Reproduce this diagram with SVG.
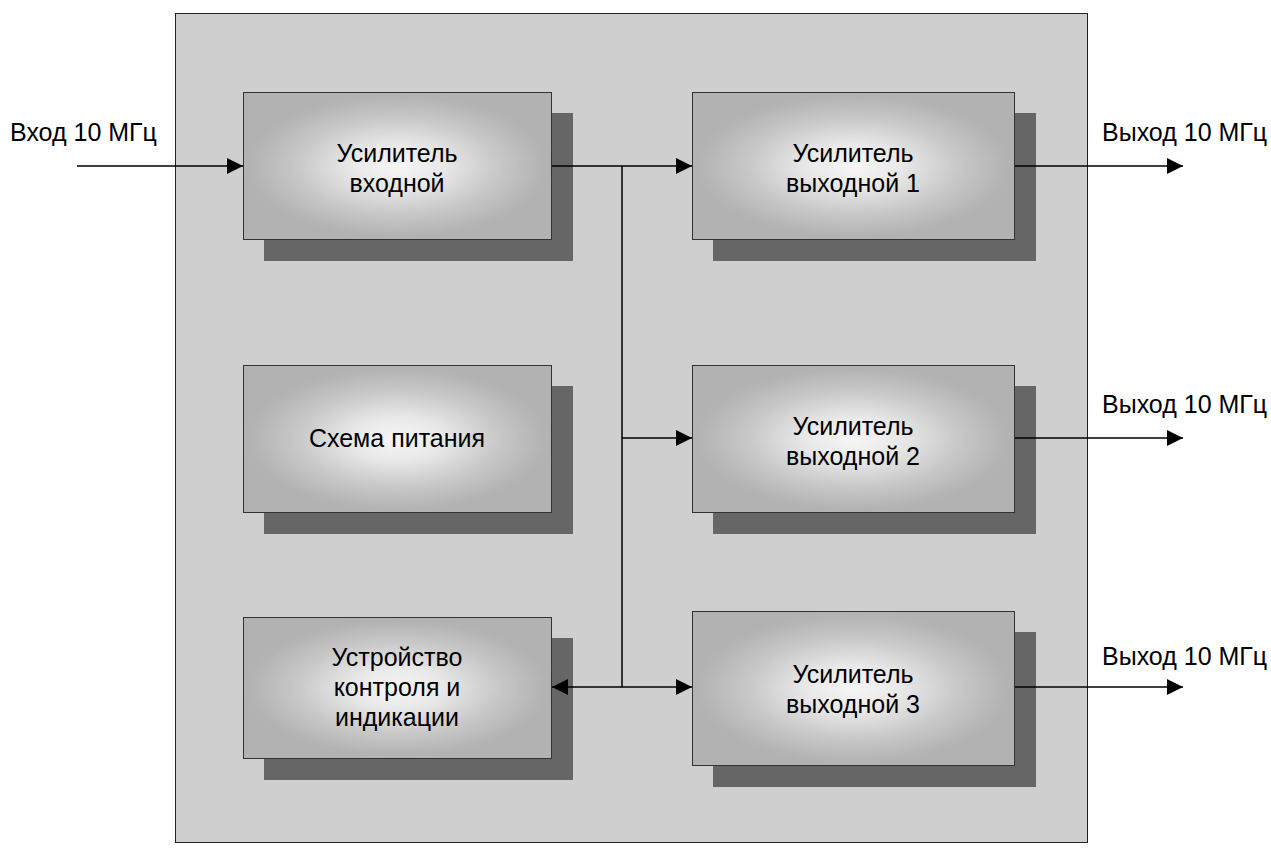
<svg xmlns="http://www.w3.org/2000/svg" width="1271" height="854" viewBox="0 0 1271 854">
  <defs>
    <radialGradient id="boxFill" cx="50%" cy="50%" r="50%">
      <stop offset="0" stop-color="#f6f6f6"/>
      <stop offset="0.3" stop-color="#e8e8e8"/>
      <stop offset="0.65" stop-color="#c8c8c8"/>
      <stop offset="0.95" stop-color="#b3b3b3"/>
      <stop offset="1" stop-color="#b2b2b2"/>
    </radialGradient>
    <marker id="arrow" viewBox="0 0 16 16" refX="16" refY="8" markerWidth="16" markerHeight="16" markerUnits="userSpaceOnUse" orient="auto-start-reverse">
      <path d="M0,0 L16,8 L0,16 Z" fill="#000"/>
    </marker>
    <style>
      .frame { fill: #cfcfcf; stroke: #222; stroke-width: 1; }
      .shadow { fill: #666666; }
      .box { fill: url(#boxFill); stroke: #333; stroke-width: 1; }
      .lbl { font-family: "Liberation Sans", Arial, sans-serif; font-size: 25px; fill: #000; }
      .mid { text-anchor: middle; }
      .wire { fill: none; stroke: #000; stroke-width: 1.5; }
    </style>
  </defs>

  <rect width="1271" height="854" fill="#ffffff"/>

  <!-- enclosure -->
  <rect class="frame" x="175.5" y="13.5" width="912" height="829"/>

  <!-- input amplifier -->
  <g id="amp-in">
    <rect class="shadow" x="264" y="113" width="309" height="148"/>
    <rect class="box" x="243.5" y="92.5" width="308" height="147"/>
    <text class="lbl mid" x="397" y="162">Усилитель</text>
    <text class="lbl mid" x="397" y="192">входной</text>
  </g>

  <!-- power supply -->
  <g id="power">
    <rect class="shadow" x="264" y="386" width="309" height="148"/>
    <rect class="box" x="243.5" y="365.5" width="308" height="147"/>
    <text class="lbl mid" x="397" y="447">Схема питания</text>
  </g>

  <!-- control and indication unit -->
  <g id="control">
    <rect class="shadow" x="264" y="638" width="309" height="142"/>
    <rect class="box" x="243.5" y="617.5" width="308" height="141"/>
    <text class="lbl mid" x="397" y="666">Устройство</text>
    <text class="lbl mid" x="397" y="696">контроля и</text>
    <text class="lbl mid" x="397" y="726">индикации</text>
  </g>

  <!-- output amplifier 1 -->
  <g id="amp-out1">
    <rect class="shadow" x="713" y="113" width="323" height="148"/>
    <rect class="box" x="692.5" y="92.5" width="322" height="147"/>
    <text class="lbl mid" x="853" y="162">Усилитель</text>
    <text class="lbl mid" x="853" y="192">выходной 1</text>
  </g>

  <!-- output amplifier 2 -->
  <g id="amp-out2">
    <rect class="shadow" x="713" y="386" width="323" height="148"/>
    <rect class="box" x="692.5" y="365.5" width="322" height="147"/>
    <text class="lbl mid" x="853" y="435">Усилитель</text>
    <text class="lbl mid" x="853" y="465">выходной 2</text>
  </g>

  <!-- output amplifier 3 -->
  <g id="amp-out3">
    <rect class="shadow" x="713" y="632" width="323" height="155"/>
    <rect class="box" x="692.5" y="611.5" width="322" height="154"/>
    <text class="lbl mid" x="853" y="683">Усилитель</text>
    <text class="lbl mid" x="853" y="713">выходной 3</text>
  </g>

  <!-- signal connections -->
  <g id="connectors">
    <line class="wire" x1="77" y1="166" x2="243" y2="166" marker-end="url(#arrow)"/>
    <line class="wire" x1="552" y1="166" x2="692" y2="166" marker-end="url(#arrow)"/>
    <line class="wire" x1="622" y1="166" x2="622" y2="687"/>
    <line class="wire" x1="622" y1="438" x2="692" y2="438" marker-end="url(#arrow)"/>
    <line class="wire" x1="622" y1="687" x2="692" y2="687" marker-end="url(#arrow)"/>
    <line class="wire" x1="622" y1="687" x2="552" y2="687" marker-end="url(#arrow)"/>
    <line class="wire" x1="1015" y1="166" x2="1183" y2="166" marker-end="url(#arrow)"/>
    <line class="wire" x1="1015" y1="438" x2="1183" y2="438" marker-end="url(#arrow)"/>
    <line class="wire" x1="1015" y1="687" x2="1183" y2="687" marker-end="url(#arrow)"/>
  </g>

  <!-- external port labels -->
  <g id="labels">
    <text class="lbl" x="10" y="141">Вход 10 МГц</text>
    <text class="lbl" x="1102" y="141">Выход 10 МГц</text>
    <text class="lbl" x="1102" y="413">Выход 10 МГц</text>
    <text class="lbl" x="1102" y="665">Выход 10 МГц</text>
  </g>
</svg>
